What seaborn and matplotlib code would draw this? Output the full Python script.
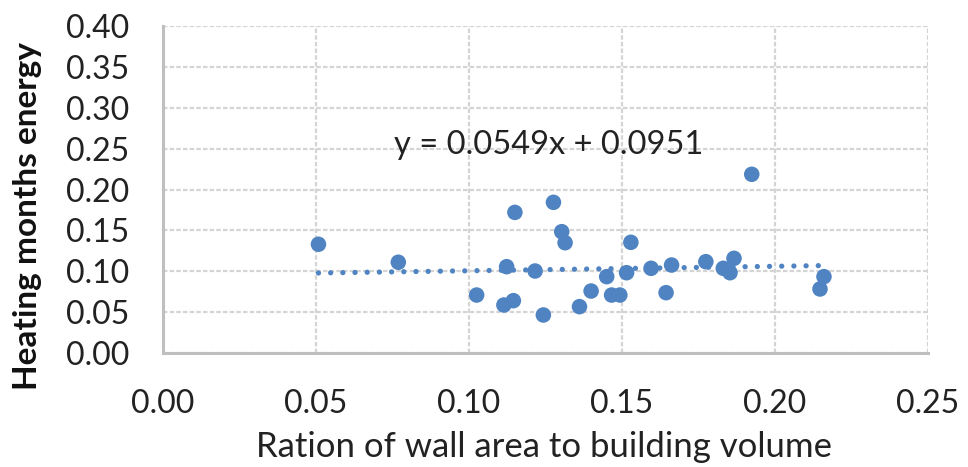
import matplotlib
matplotlib.use("Agg")
import matplotlib.pyplot as plt
import seaborn as sns
import numpy as np
import pandas as pd

# Ratio of wall area to building volume vs. heating-months energy
wall_ratio = [0.0508, 0.0769, 0.1025, 0.1123, 0.1150, 0.1114, 0.1145, 0.1216,
              0.1243, 0.1276, 0.1303, 0.1314, 0.1361, 0.1399, 0.1450, 0.1466,
              0.1493, 0.1515, 0.1529, 0.1595, 0.1644, 0.1662, 0.1774, 0.1831,
              0.1853, 0.1866, 0.1924, 0.2147, 0.2160]
heating_energy = [0.133, 0.111, 0.0709, 0.1056, 0.172, 0.0587, 0.064, 0.1003,
                  0.0465, 0.1843, 0.1484, 0.1349, 0.0567, 0.0758, 0.0934, 0.0709,
                  0.0709, 0.0982, 0.1354, 0.1036, 0.0738, 0.1076, 0.1117, 0.1036,
                  0.0982, 0.1158, 0.2186, 0.0783, 0.0934]

# Linear trend line coefficients
slope = 0.0549
intercept = 0.0951

x_ticks = [0.00, 0.05, 0.10, 0.15, 0.20, 0.25]
y_ticks = [0.00, 0.05, 0.10, 0.15, 0.20, 0.25, 0.30, 0.35, 0.40]

sns.set_theme(style="white")
plt.rcParams["font.family"] = ["Lato", "DejaVu Sans"]

BLUE = "#4F83C2"
GRID = "#d4d4d4"
AXIS = "#bfbfbf"
TEXT = "#222222"

df = pd.DataFrame({"ratio": wall_ratio, "energy": heating_energy})
trend_x = np.array([min(wall_ratio), max(wall_ratio)])
trend = pd.DataFrame({"ratio": trend_x, "energy": slope * trend_x + intercept})

fig = plt.figure(figsize=(9.68, 4.67), dpi=100)
ax = fig.add_axes([163 / 968, 1 - 353 / 467, (928 - 163) / 968, (353 - 26) / 467])

sns.lineplot(data=trend, x="ratio", y="energy", ax=ax, color=BLUE,
             linewidth=3.8, linestyle=(0, (0.01, 2.3)), zorder=2)
ax.lines[-1].set_dash_capstyle("round")
sns.scatterplot(data=df, x="ratio", y="energy", ax=ax, color=BLUE,
                s=125, edgecolor="none", zorder=3)

ax.set_xlim(0, 0.25)
ax.set_ylim(0, 0.40)
ax.set_xticks(x_ticks)
ax.set_yticks(y_ticks)
ax.set_xticklabels([f"{v:.2f}" for v in x_ticks])
ax.set_yticklabels([f"{v:.2f}" for v in y_ticks])
ax.tick_params(axis="x", length=0, pad=26, labelsize=23, colors=TEXT)
ax.tick_params(axis="y", length=0, pad=24, labelsize=23, colors=TEXT)

ax.grid(True, color=GRID, linewidth=1.6, linestyle=(0, (2, 1)), zorder=0)
ax.set_axisbelow(True)
for side in ["top", "right"]:
    ax.spines[side].set_visible(False)
for side in ["left", "bottom"]:
    ax.spines[side].set_color(AXIS)
    ax.spines[side].set_linewidth(2.2)

ax.set_xlabel("")
ax.set_ylabel("")

ax.text(0.1261, 0.2544, f"y = {slope:.4f}x + {intercept:.4f}", fontsize=23.5,
        ha="center", va="center", color=TEXT)

fig.text(28 / 968, 1 - 216 / 467, "Heating months energy", rotation=90,
         ha="center", va="center", fontsize=24, fontweight="bold", color="#111111")
fig.text(544 / 968, 1 - 447 / 467, "Ration of wall area to building volume",
         ha="center", va="center", fontsize=25, color=TEXT)

fig.savefig("out.png", dpi=100, facecolor="white")
